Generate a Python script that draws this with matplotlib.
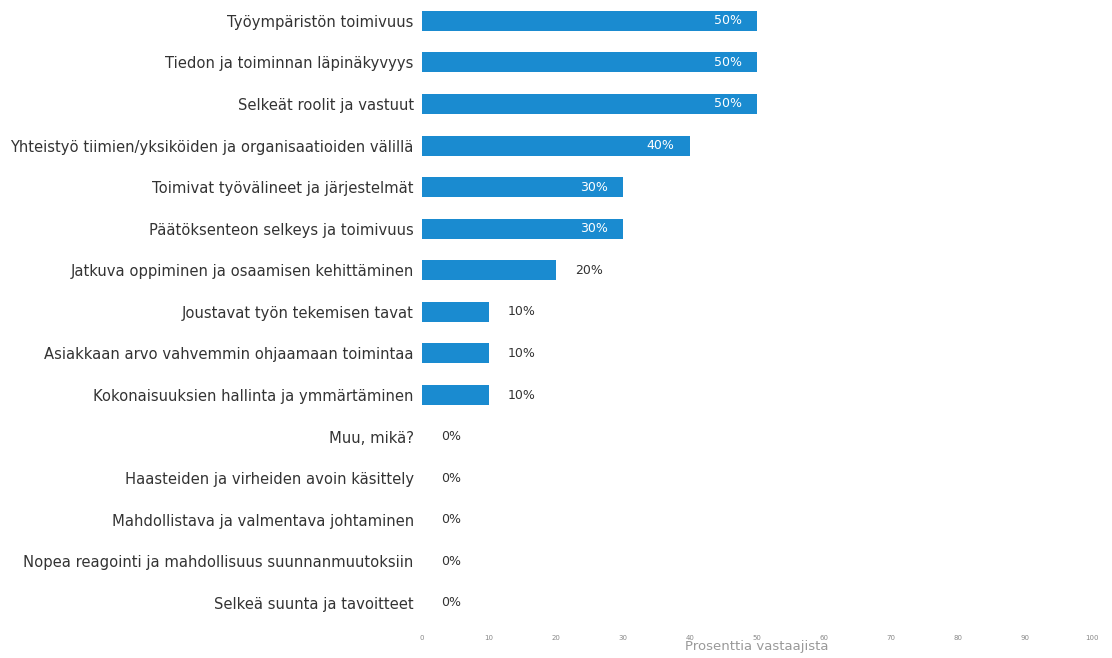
import numpy as np
from matplotlib import pyplot as plt

"""data"""
labels = [
    'Työympäristön toimivuus',
    'Tiedon ja toiminnan läpinäkyvyys',
    'Selkeät roolit ja vastuut',
    'Yhteistyö tiimien/yksiköiden ja organisaatioiden välillä',
    'Toimivat työvälineet ja järjestelmät',
    'Päätöksenteon selkeys ja toimivuus',
    'Jatkuva oppiminen ja osaamisen kehittäminen',
    'Joustavat työn tekemisen tavat',
    'Asiakkaan arvo vahvemmin ohjaamaan toimintaa',
    'Kokonaisuuksien hallinta ja ymmärtäminen',
    'Muu, mikä?',
    'Haasteiden ja virheiden avoin käsittely',
    'Mahdollistava ja valmentava johtaminen',
    'Nopea reagointi ja mahdollisuus suunnanmuutoksiin',
    'Selkeä suunta ja tavoitteet',
]
values = [50, 50, 50, 40, 30, 30, 20, 10, 10, 10, 0, 0, 0, 0, 0]
xticks = [0, 10, 20, 30, 40, 50, 60, 70, 80, 90, 100]

"""plot"""
fig = plt.figure(figsize=(11.12, 6.58), dpi=100)
ax = fig.add_axes([0.3795, 0.052, 0.6025, 0.948])
y = np.arange(len(labels))
ax.barh(y, values, height=0.48, color='#1a8bd0')

for yi, v in zip(y, values):
  if v >= 30:
    ax.text(v - 2.3, yi, '%d%%' % v, ha='right', va='center', color='white', fontsize=9)
  else:
    ax.text(v + 2.8, yi, '%d%%' % v, ha='left', va='center', color='#333333', fontsize=9)

ax.set_xlim(0, 100)
ax.set_ylim(len(labels) - 0.5, -0.5)
ax.set_yticks(y)
ax.set_yticklabels(labels, fontsize=10.6, color='#333333')
ax.set_xticks(xticks)
ax.set_xticklabels([str(t) for t in xticks], fontsize=5, color='#888888')
ax.tick_params(axis='y', length=0, pad=6)
ax.tick_params(axis='x', length=0, pad=8)
ax.set_xlabel('Prosenttia vastaajista', fontsize=9.5, color='#999999', labelpad=-1)
for s in ax.spines.values():
  s.set_visible(False)

plt.savefig('out.png')
